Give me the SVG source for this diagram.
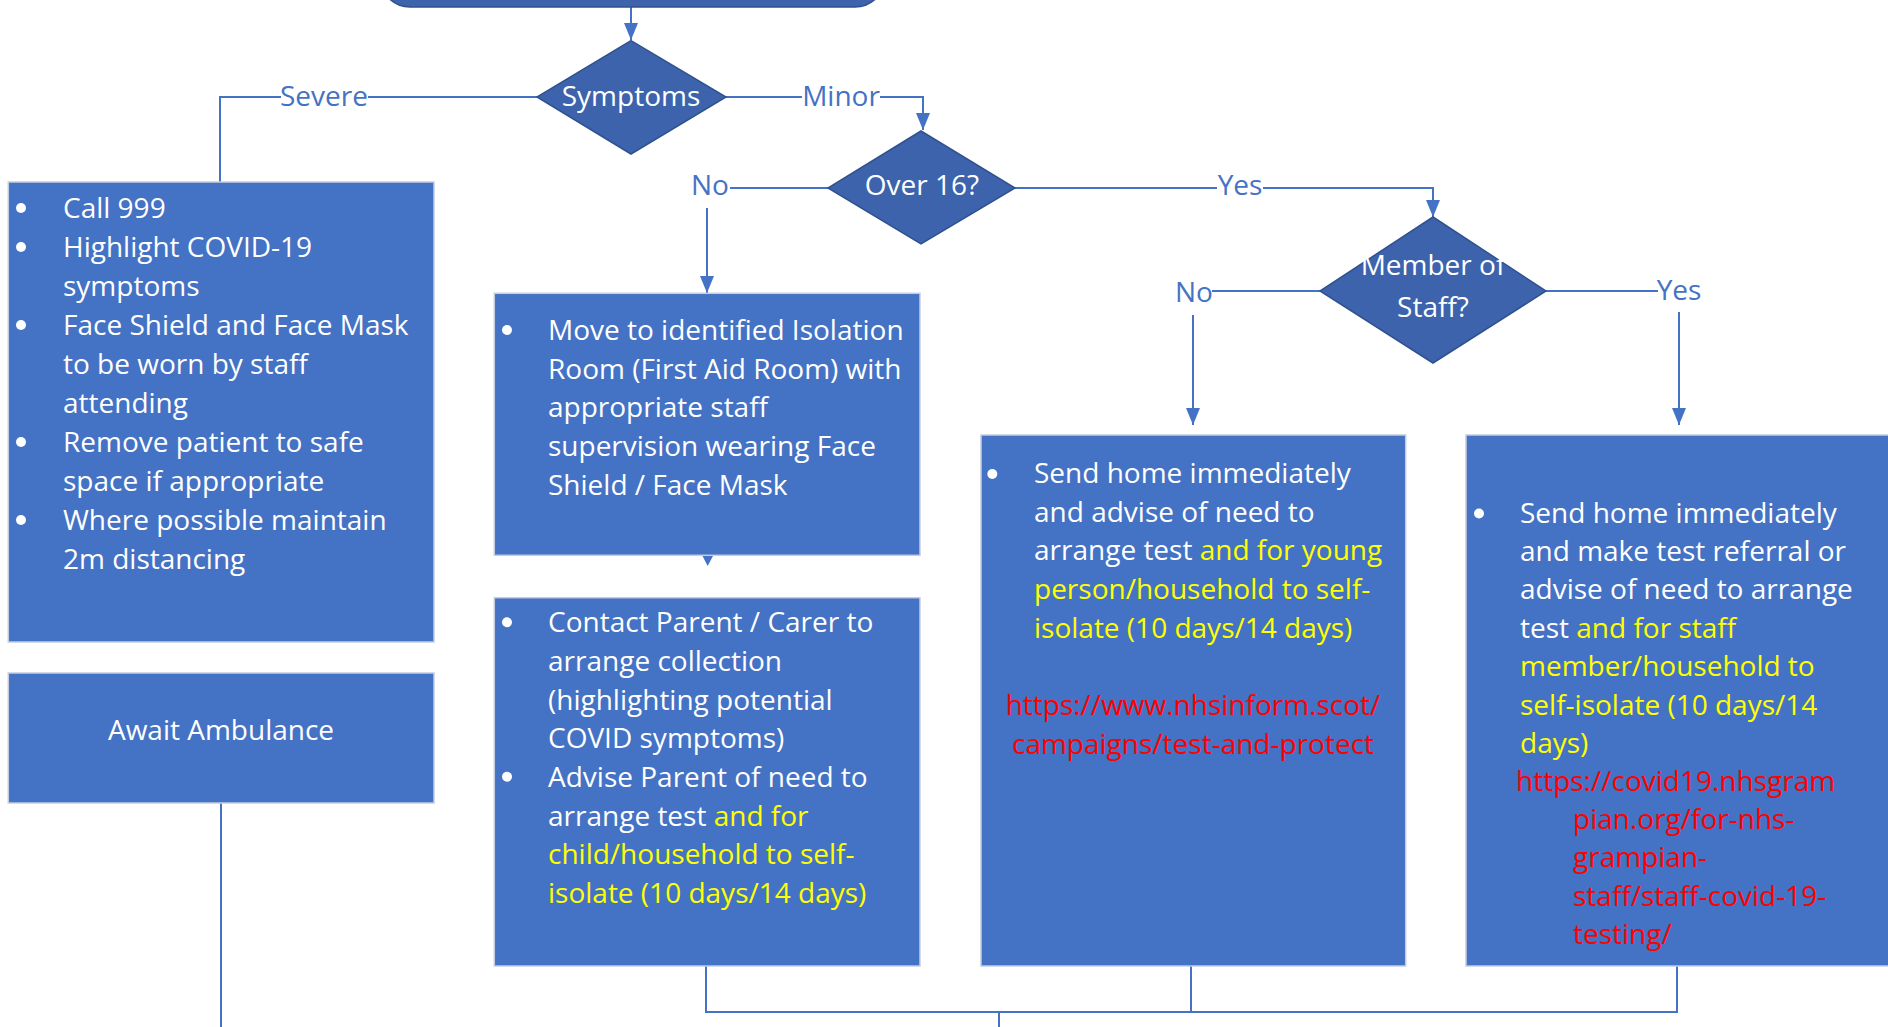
<svg xmlns="http://www.w3.org/2000/svg" width="1888" height="1027" viewBox="0 0 1888 1027">
<style>
.box{fill:#4472c4;stroke:#c5cde0;stroke-width:1.5}
.dia{fill:#3d63ac;stroke:#2f528f;stroke-width:1.5}
.t{font-family:"Open Sans","Liberation Sans",sans-serif;font-size:28px;fill:#ffffff}
.lbl{fill:#4472c4;text-anchor:middle}
.c{text-anchor:middle}
.y{fill:#ffff00}
.r{fill:#ff0000}
.conn{fill:none;stroke:#4472c4;stroke-width:2}
.bul{fill:#ffffff}
</style>
<defs>
<marker id="arr" viewBox="0 0 17 14" refX="17" refY="7" markerWidth="17" markerHeight="14" markerUnits="userSpaceOnUse" orient="auto">
<path d="M0,0 L17,7 L0,14 z" fill="#4472c4"/>
</marker>
</defs>
<rect width="1888" height="1027" fill="#ffffff"/>

<g id="connectors">
<path class="conn" d="M631,7 V40" marker-end="url(#arr)"/>
<path class="conn" d="M537,97 H368 M281,97 H220 V182"/>
<path class="conn" d="M726,97 H802 M880,97 H923 V130" marker-end="url(#arr)"/>
<path class="conn" d="M828,188 H730"/>
<path class="conn" d="M707,208 V293" marker-end="url(#arr)"/>
<path class="conn" d="M1015,188 H1217 M1263,188 H1433 V217" marker-end="url(#arr)"/>
<path class="conn" d="M1320,291 H1212"/>
<path class="conn" d="M1193,315 V425" marker-end="url(#arr)"/>
<path class="conn" d="M1546,291 H1658"/>
<path class="conn" d="M1679,312 V425" marker-end="url(#arr)"/>
<polygon points="702,555 713.5,555 707.7,566" fill="#4472c4"/>
<path class="conn" d="M221,803 V1027"/>
<path class="conn" d="M706,966 V1012 H1677 V966"/>
<path class="conn" d="M1191,966 V1012"/>
<path class="conn" d="M999,1012 V1027"/>
<text class="t lbl" x="324" y="106">Severe</text>
<text class="t lbl" x="841" y="106">Minor</text>
<text class="t lbl" x="710" y="195">No</text>
<text class="t lbl" x="1240" y="195">Yes</text>
<text class="t lbl" x="1194" y="302">No</text>
<text class="t lbl" x="1679" y="300">Yes</text>
</g>

<g id="start">
<rect x="380" y="-60" width="505" height="67" rx="30" class="dia"/>
</g>

<g id="symptoms">
<polygon points="631,40.7 726,97 631,154 537,97" class="dia"/>
<text class="t c" x="631" y="106">Symptoms</text>
</g>

<g id="over16">
<polygon points="921,131 1015,188 921,244 828,188" class="dia"/>
<text class="t c" x="922" y="195">Over 16?</text>
</g>

<g id="member">
<polygon points="1433,217 1546,291 1433,363 1320,291" class="dia"/>
<text class="t c" x="1433" y="275">Member of</text>
<text class="t c" x="1433" y="317">Staff?</text>
</g>

<g id="severe-box">
<rect x="8.3" y="182" width="425.7" height="460" class="box"/>
<circle class="bul" cx="21" cy="208" r="5"/>
<circle class="bul" cx="21" cy="247" r="5"/>
<circle class="bul" cx="21" cy="325" r="5"/>
<circle class="bul" cx="21" cy="442" r="5"/>
<circle class="bul" cx="21" cy="520" r="5"/>
<text class="t" x="63" y="218">Call 999</text>
<text class="t" x="63" y="257">Highlight COVID-19</text>
<text class="t" x="63" y="296">symptoms</text>
<text class="t" x="63" y="335">Face Shield and Face Mask</text>
<text class="t" x="63" y="374">to be worn by staff</text>
<text class="t" x="63" y="413">attending</text>
<text class="t" x="63" y="452">Remove patient to safe</text>
<text class="t" x="63" y="491">space if appropriate</text>
<text class="t" x="63" y="530">Where possible maintain</text>
<text class="t" x="63" y="569">2m distancing</text>
</g>

<g id="ambulance">
<rect x="8.3" y="673" width="425.7" height="130" class="box"/>
<text class="t c" x="221" y="740">Await Ambulance</text>
</g>

<g id="isolation">
<rect x="494.3" y="293.3" width="425.7" height="262" class="box"/>
<circle class="bul" cx="507" cy="330" r="5"/>
<text class="t" x="548" y="340">Move to identified Isolation</text>
<text class="t" x="548" y="378.7">Room (First Aid Room) with</text>
<text class="t" x="548" y="417.4">appropriate staff</text>
<text class="t" x="548" y="456">supervision wearing Face</text>
<text class="t" x="548" y="494.7">Shield / Face Mask</text>
</g>

<g id="contact-parent">
<rect x="494.3" y="597.7" width="425.7" height="368.3" class="box"/>
<circle class="bul" cx="507" cy="622.3" r="5"/>
<circle class="bul" cx="507" cy="776.8" r="5"/>
<text class="t" x="548" y="632.3">Contact Parent / Carer to</text>
<text class="t" x="548" y="671">arrange collection</text>
<text class="t" x="548" y="709.6">(highlighting potential</text>
<text class="t" x="548" y="748.2">COVID symptoms)</text>
<text class="t" x="548" y="786.8">Advise Parent of need to</text>
<text class="t" x="548" y="825.5">arrange test <tspan class="y">and for</tspan></text>
<text class="t y" x="548" y="864.1">child/household to self-</text>
<text class="t y" x="548" y="902.7">isolate (10 days/14 days)</text>
</g>

<g id="send-home-young">
<rect x="981" y="435" width="424.7" height="531" class="box"/>
<circle class="bul" cx="992.3" cy="474" r="5"/>
<text class="t" x="1034" y="483">Send home immediately</text>
<text class="t" x="1034" y="521.7">and advise of need to</text>
<text class="t" x="1034" y="560.4">arrange test <tspan class="y">and for young</tspan></text>
<text class="t y" x="1034" y="599">person/household to self-</text>
<text class="t y" x="1034" y="637.7">isolate (10 days/14 days)</text>
<text class="t r c" x="1193" y="715.4">https://www.nhsinform.scot/</text>
<text class="t r c" x="1193" y="753.5">campaigns/test-and-protect</text>
</g>

<g id="send-home-staff">
<rect x="1466" y="435" width="430" height="531" class="box"/>
<circle class="bul" cx="1479" cy="513.5" r="5"/>
<text class="t" x="1520" y="522.6">Send home immediately</text>
<text class="t" x="1520" y="561">and make test referral or</text>
<text class="t" x="1520" y="599.4">advise of need to arrange</text>
<text class="t" x="1520" y="637.8">test <tspan class="y">and for staff</tspan></text>
<text class="t y" x="1520" y="676.2">member/household to</text>
<text class="t y" x="1520" y="714.6">self-isolate (10 days/14</text>
<text class="t y" x="1520" y="753">days)</text>
<text class="t r" x="1516" y="790.5">https://covid19.nhsgram</text>
<text class="t r" x="1573" y="828.8">pian.org/for-nhs-</text>
<text class="t r" x="1573" y="867.2">grampian-</text>
<text class="t r" x="1573" y="905.5">staff/staff-covid-19-</text>
<text class="t r" x="1573" y="943.9">testing/</text>
</g>
</svg>
